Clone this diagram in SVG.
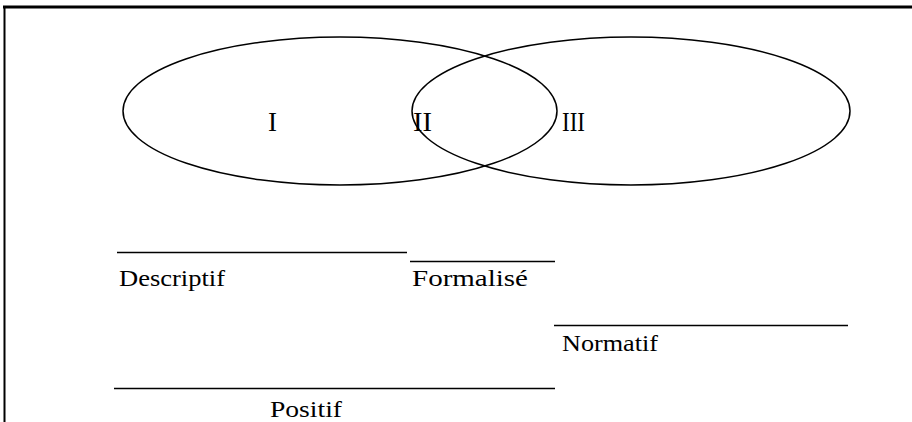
<svg xmlns="http://www.w3.org/2000/svg" width="912" height="422" viewBox="0 0 912 422">
<style>
.e{fill:none;stroke:#000;stroke-width:1.5}
.l{stroke:#000;stroke-width:1.4}
.t{font-family:"Liberation Serif","Times New Roman",serif;font-size:24px;fill:#000}
.n{font-family:"Liberation Serif","Times New Roman",serif;font-size:27px;fill:#000}
</style>
<rect width="912" height="422" fill="#fff"/>
<g id="frame">
<line x1="3" y1="7" x2="912" y2="7" stroke="#000" stroke-width="3"/>
<line x1="4.5" y1="6" x2="4.5" y2="422" stroke="#000" stroke-width="2"/>
</g>
<g id="set-left"><ellipse class="e" cx="340" cy="111" rx="217" ry="74"/></g>
<g id="set-right"><ellipse class="e" cx="631" cy="111" rx="219" ry="74"/></g>
<g id="label-I"><text class="n" x="268" y="131">I</text></g>
<g id="label-II"><text class="n" x="413" y="131" textLength="19" lengthAdjust="spacingAndGlyphs">II</text></g>
<g id="label-III"><text class="n" x="562" y="131" textLength="23" lengthAdjust="spacingAndGlyphs">III</text></g>
<g id="connectors">
<line class="l" x1="117" y1="252.5" x2="407" y2="252.5"/>
<line class="l" x1="410" y1="261.5" x2="555" y2="261.5"/>
<line class="l" x1="554" y1="325.5" x2="848" y2="325.5"/>
<line class="l" x1="114" y1="388.5" x2="555" y2="388.5"/>
</g>
<g id="descriptif"><text class="t" x="119" y="286" textLength="106" lengthAdjust="spacingAndGlyphs">Descriptif</text></g>
<g id="formalise"><text class="t" x="412" y="286" textLength="116" lengthAdjust="spacingAndGlyphs">Formalisé</text></g>
<g id="normatif"><text class="t" x="562" y="351" textLength="96" lengthAdjust="spacingAndGlyphs">Normatif</text></g>
<g id="positif"><text class="t" x="270" y="417" textLength="72" lengthAdjust="spacingAndGlyphs">Positif</text></g>
</svg>
